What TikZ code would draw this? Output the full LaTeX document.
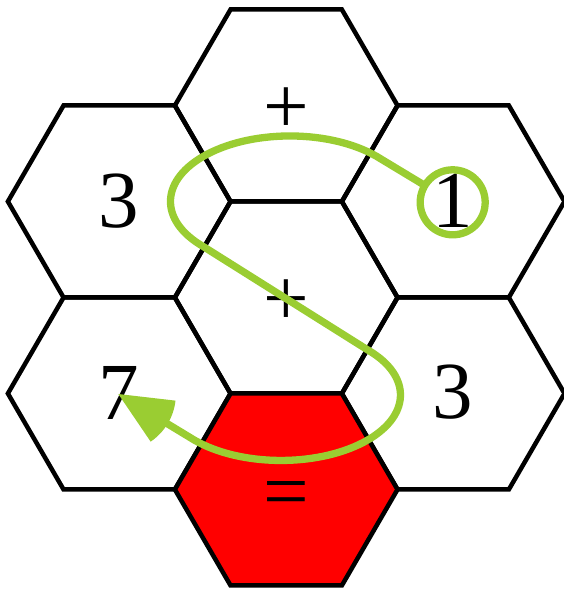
\documentclass[tikz,border=0pt]{standalone}
\usepackage{fontspec}
\setmainfont{Liberation Serif}
\usetikzlibrary{arrows.meta}
\definecolor{pathgreen}{RGB}{154,205,50}
\definecolor{cellred}{RGB}{255,0,0}

\pgfdeclarearrow{
  name = Sector,
  parameters = {\the\pgfarrowlength},
  setup code = {
    \pgfarrowssettipend{0pt}
    \pgfarrowssetbackend{-\pgfarrowlength}
    \pgfarrowssetlineend{-0.8\pgfarrowlength}
    \pgfarrowssavethe\pgfarrowlength
  },
  drawing code = {
    \pgfpathmoveto{\pgfpointorigin}
    \pgfpathlineto{\pgfpointpolar{155.4}{\pgfarrowlength}}
    \pgfpatharc{155.4}{204.6}{\pgfarrowlength}
    \pgfpathclose
    \pgfusepathqfill
  },
  defaults = {length = 57.6pt}
}

\tikzset{
  hexagon/.pic={\path[pic actions] (111.3,0) -- (55.65,96) -- (-55.65,96) -- (-111.3,0) -- (-55.65,-96) -- (55.65,-96) -- cycle;}
}

\begin{document}
\begin{tikzpicture}[x=1pt,y=1pt,
  hexcell/.style={draw=black, line width=4.5pt},
  cellnum/.style={font=\fontsize{81}{81}\selectfont, inner sep=0pt},
  route/.style={draw=pathgreen, line width=7.3pt}]
\useasboundingbox (0,0) rectangle (564,589);
% cells
\pic[hexcell] at (286.2,483.5) {hexagon};
\pic[hexcell] at (119.2,387.5) {hexagon};
\pic[hexcell] at (453.2,387.5) {hexagon};
\pic[hexcell] at (286.2,291.5) {hexagon};
\pic[hexcell] at (119.2,195.5) {hexagon};
\pic[hexcell] at (453.2,195.5) {hexagon};
\pic[hexcell, fill=cellred] at (286.2,99.5) {hexagon};
% labels
\node[cellnum] (tplus) at (286.2,478.4) {+};
\node[cellnum] (ul) at (119.2,388.3) {3};
\node[cellnum] (ur) at (452.8,388.2) {1};
\node[cellnum] (cplus) at (286.2,286.2) {+};
\node[cellnum] (ll) at (119.2,195.7) {7};
\node[cellnum] (lr) at (453.2,197.3) {3};
\node[cellnum] (eq) at (286.2,89.5) {=};
% route
\node[circle, draw=pathgreen, line width=7.3pt, minimum size=65pt, inner sep=0pt, outer sep=0pt] (ring) at (452.7,386.7) {};
\coordinate (tip) at (118.3,195);
\draw[route, -{Sector}] (ring) -- (376.5,432.7)
  arc[start angle=43.6, end angle=223.6, x radius=119.5, y radius=65.5]
  -- (367.5,239.2)
  arc[start angle=43.6, end angle=-136.4, x radius=119.5, y radius=65.5]
  -- (tip);
\end{tikzpicture}
\end{document}
